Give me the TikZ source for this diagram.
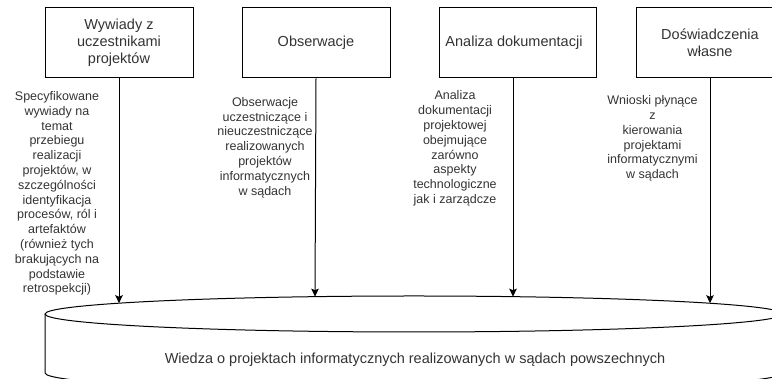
\documentclass[tikz,border=0pt]{standalone}
\usepackage{fontspec}
\setmainfont{Liberation Sans}
\usetikzlibrary{arrows.meta}
\definecolor{txt}{HTML}{333333}
\begin{document}
\begin{tikzpicture}[x=1pt,y=1pt,
  srcbox/.style={draw=black, line width=1pt, minimum height=70pt, inner sep=0pt,
    align=center, text=txt, font=\fontsize{14.5}{17}\selectfont},
  note/.style={align=center, inner sep=0pt, text=txt, font=\fontsize{12.5}{14.8}\selectfont},
  feed/.style={line width=1pt, -{Stealth[length=8pt,width=7.5pt,inset=1.5pt]}}
]
\useasboundingbox (0,0) rectangle (772,379);
\clip (0,0) rectangle (772,379);

% source boxes
\node[srcbox, minimum width=148pt] (wyw) at (119,336) {Wywiady z\\uczestnikami\\projektów};
\node[srcbox, minimum width=148pt] (obs) at (316,336) {Obserwacje};
\node[srcbox, minimum width=157pt] (ana) at (517.5,336) {\hspace*{-7pt}Analiza dokumentacji};
\node[srcbox, minimum width=148pt] (dos) at (710,336) {Doświadczenia\\własne};

% descriptions
\node[note] (d1) at (57,185.5) {Specyfikowane\\wywiady na\\temat\\przebiegu\\realizacji\\projektów, w\\szczególności\\identyfikacja\\procesów, ról i\\artefaktów\\(również tych\\brakujących na\\podstawie\\retrospekcji)};
\node[note] (d2) at (265,231.5) {Obserwacje\\uczestniczące i\\nieuczestniczące\\realizowanych\\projektów\\informatycznych\\w sądach};
\node[note] (d3) at (455,230.5) {Analiza\\dokumentacji\\projektowej\\obejmujące\\zarówno\\aspekty\\technologiczne\\jak i zarządcze};
\node[note] (d4) at (652.5,240.5) {Wnioski płynące\\z\\kierowania\\projektami\\informatycznymi\\w sądach};

% knowledge store (cylinder)
\draw[line width=1pt, fill=white] (45,65) -- (45,6) arc[start angle=180, end angle=360, x radius=369, y radius=18] -- (783,65);
\draw[line width=1pt, fill=white] (414,65) ellipse[x radius=369, y radius=18];
\node[text=txt, font=\fontsize{14.5}{17}\selectfont] (wiedza) at (415,19) {Wiedza o projektach informatycznych realizowanych w sądach powszechnych};

% entry points on the top rim
\coordinate (in1) at (119,75.8);
\coordinate (in2) at (315,82.3);
\coordinate (in3) at (513,82.3);
\coordinate (in4) at (710,75.75);
\coordinate (out3) at (513,301);

\draw[feed] (wyw.south) -- (in1);
\draw[feed] (obs.south) -- (in2);
\draw[feed] (out3) -- (in3);
\draw[feed] (dos.south) -- (in4);
\end{tikzpicture}
\end{document}
